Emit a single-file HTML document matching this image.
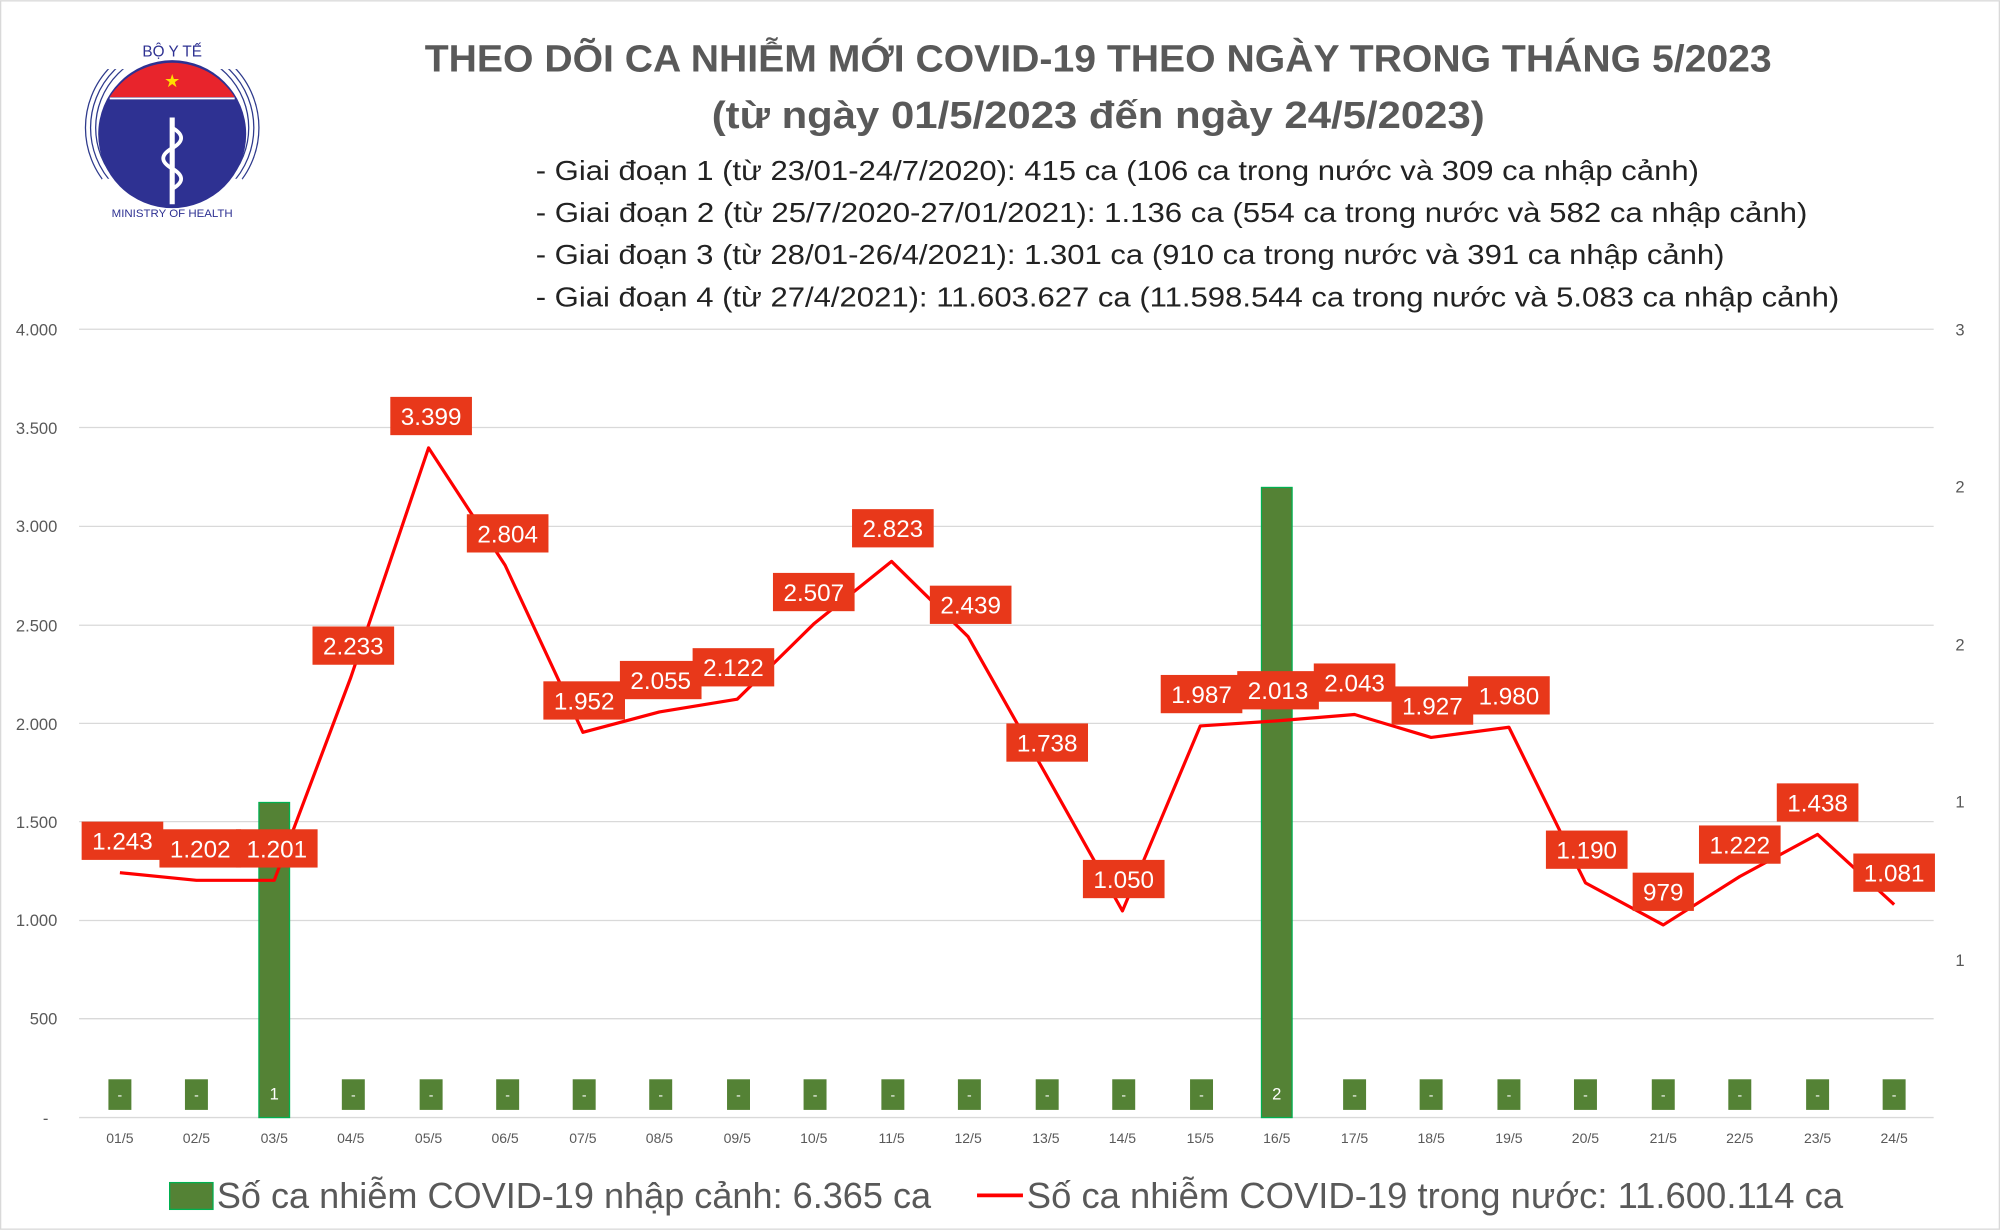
<!DOCTYPE html>
<html><head><meta charset="utf-8"><style>
html,body{margin:0;padding:0;background:#fff}
svg{display:block}
text{font-family:"Liberation Sans",sans-serif}
</style></head><body>
<svg width="2000" height="1230" viewBox="0 0 1568 964" xmlns="http://www.w3.org/2000/svg">
<rect x="0" y="0" width="1568" height="964" fill="#fff"/>
<rect x="0.5" y="0.5" width="1567" height="963" fill="none" stroke="#d9d9d9"/>
<!-- logo -->
<g>
<circle cx="135" cy="100" r="68" fill="none" stroke="#2e3a8c" stroke-width="1"/>
<circle cx="135" cy="100" r="64" fill="none" stroke="#2e3a8c" stroke-width="1"/>
<circle cx="135" cy="100" r="60" fill="none" stroke="#2e3a8c" stroke-width="1"/>
<rect x="80" y="20" width="110" height="34" fill="#fff"/>
<rect x="80" y="140" width="110" height="40" fill="#fff"/>
<circle cx="135" cy="105" r="58" fill="#2e3192"/>
<path d="M86 76 A58 58 0 0 1 184 76 Z" fill="#e8242c"/>
<line x1="86" y1="77" x2="184" y2="77" stroke="#fff" stroke-width="1.5"/>
<text x="135" y="68" font-size="14" fill="#ffde00" text-anchor="middle">★</text>
<line x1="135" y1="92" x2="135" y2="160" stroke="#fff" stroke-width="4"/>
<path d="M135 100 q14 8 0 16 q-14 8 0 16 q14 8 0 16" fill="none" stroke="#fff" stroke-width="3"/>
<text x="135" y="44" font-size="12" fill="#2e3192" text-anchor="middle">BỘ Y TẾ</text>
<text x="135" y="170" font-size="9" fill="#2e3192" text-anchor="middle">MINISTRY OF HEALTH</text>
</g>
<!-- titles -->
<text x="861" y="56" font-size="30" font-weight="bold" fill="#595959" text-anchor="middle" textLength="1056" lengthAdjust="spacingAndGlyphs">THEO DÕI CA NHIỄM MỚI COVID-19 THEO NGÀY TRONG THÁNG 5/2023</text>
<text x="861" y="100" font-size="30" font-weight="bold" fill="#595959" text-anchor="middle" textLength="606" lengthAdjust="spacingAndGlyphs">(từ ngày 01/5/2023 đến ngày 24/5/2023)</text>
<g font-size="22" fill="#222">
<text x="420" y="141" textLength="912" lengthAdjust="spacingAndGlyphs">- Giai đoạn 1 (từ 23/01-24/7/2020): 415 ca (106 ca trong nước và 309 ca nhập cảnh)</text>
<text x="420" y="174" textLength="997" lengthAdjust="spacingAndGlyphs">- Giai đoạn 2 (từ 25/7/2020-27/01/2021): 1.136 ca (554 ca trong nước và 582 ca nhập cảnh)</text>
<text x="420" y="207" textLength="932" lengthAdjust="spacingAndGlyphs">- Giai đoạn 3 (từ 28/01-26/4/2021): 1.301 ca (910 ca trong nước và 391 ca nhập cảnh)</text>
<text x="420" y="240" textLength="1022" lengthAdjust="spacingAndGlyphs">- Giai đoạn 4 (từ 27/4/2021): 11.603.627 ca (11.598.544 ca trong nước và 5.083 ca nhập cảnh)</text>
</g>
<!-- grid -->
<g stroke="#d9d9d9" stroke-width="1">
<line x1="62" y1="258" x2="1516" y2="258"/><line x1="62" y1="335" x2="1516" y2="335"/>
<line x1="62" y1="412.5" x2="1516" y2="412.5"/><line x1="62" y1="490" x2="1516" y2="490"/>
<line x1="62" y1="567" x2="1516" y2="567"/><line x1="62" y1="644" x2="1516" y2="644"/>
<line x1="62" y1="721.5" x2="1516" y2="721.5"/><line x1="62" y1="798.5" x2="1516" y2="798.5"/>
<line x1="62" y1="876" x2="1516" y2="876"/>
</g>
<g font-size="13" fill="#595959" text-anchor="end">
<text x="45" y="263">4.000</text><text x="45" y="340">3.500</text><text x="45" y="417">3.000</text>
<text x="45" y="495">2.500</text><text x="45" y="572">2.000</text><text x="45" y="649">1.500</text>
<text x="45" y="726">1.000</text><text x="45" y="803">500</text><text x="38" y="881">-</text>
</g>
<g font-size="13" fill="#595959">
<text x="1533" y="263">3</text><text x="1533" y="386">2</text><text x="1533" y="510">2</text>
<text x="1533" y="633">1</text><text x="1533" y="757">1</text>
</g>
<!-- bars -->
<g fill="#548235">
<rect x="85" y="846" width="18" height="24"/><rect x="145" y="846" width="18" height="24"/>
<rect x="203" y="629" width="24" height="247" stroke="#00b050" stroke-width="1"/>
<rect x="268" y="846" width="18" height="24"/><rect x="329" y="846" width="18" height="24"/>
<rect x="389" y="846" width="18" height="24"/><rect x="449" y="846" width="18" height="24"/>
<rect x="509" y="846" width="18" height="24"/><rect x="570" y="846" width="18" height="24"/>
<rect x="630" y="846" width="18" height="24"/><rect x="691" y="846" width="18" height="24"/>
<rect x="751" y="846" width="18" height="24"/><rect x="812" y="846" width="18" height="24"/>
<rect x="872" y="846" width="18" height="24"/><rect x="933" y="846" width="18" height="24"/>
<rect x="989" y="382" width="24" height="494" stroke="#00b050" stroke-width="1"/>
<rect x="1053" y="846" width="18" height="24"/><rect x="1113" y="846" width="18" height="24"/>
<rect x="1174" y="846" width="18" height="24"/><rect x="1234" y="846" width="18" height="24"/>
<rect x="1295" y="846" width="18" height="24"/><rect x="1355" y="846" width="18" height="24"/>
<rect x="1416" y="846" width="18" height="24"/><rect x="1476" y="846" width="18" height="24"/>
</g>
<g font-size="11" fill="#fff" text-anchor="middle">
<text x="94" y="862">-</text><text x="154" y="862">-</text><text x="215" y="862" font-size="13">1</text>
<text x="277" y="862">-</text><text x="338" y="862">-</text><text x="398" y="862">-</text>
<text x="458" y="862">-</text><text x="518" y="862">-</text><text x="579" y="862">-</text>
<text x="639" y="862">-</text><text x="700" y="862">-</text><text x="760" y="862">-</text>
<text x="821" y="862">-</text><text x="881" y="862">-</text><text x="942" y="862">-</text>
<text x="1001" y="862" font-size="13">2</text><text x="1062" y="862">-</text><text x="1122" y="862">-</text>
<text x="1183" y="862">-</text><text x="1243" y="862">-</text><text x="1304" y="862">-</text>
<text x="1364" y="862">-</text><text x="1425" y="862">-</text><text x="1485" y="862">-</text>
</g>
<!-- x labels -->
<g font-size="11" fill="#595959" text-anchor="middle">
<text x="94" y="896">01/5</text><text x="154" y="896">02/5</text><text x="215" y="896">03/5</text>
<text x="275" y="896">04/5</text><text x="336" y="896">05/5</text><text x="396" y="896">06/5</text>
<text x="457" y="896">07/5</text><text x="517" y="896">08/5</text><text x="578" y="896">09/5</text>
<text x="638" y="896">10/5</text><text x="699" y="896">11/5</text><text x="759" y="896">12/5</text>
<text x="820" y="896">13/5</text><text x="880" y="896">14/5</text><text x="941" y="896">15/5</text>
<text x="1001" y="896">16/5</text><text x="1062" y="896">17/5</text><text x="1122" y="896">18/5</text>
<text x="1183" y="896">19/5</text><text x="1243" y="896">20/5</text><text x="1304" y="896">21/5</text>
<text x="1364" y="896">22/5</text><text x="1425" y="896">23/5</text><text x="1485" y="896">24/5</text>
</g>
<!-- line -->
<polyline fill="none" stroke="#ff0000" stroke-width="2.5" stroke-linejoin="round" points="94,684 154,690 215,690 275,531 336,351 396,443 457,574 517,558 578,548 638,489 699,440 759,499 820,607 880,714 941,569 1001,565 1062,560 1122,578 1183,570 1243,692 1304,725 1364,687 1425,654 1485,709"/>
<!-- labels -->
<g font-size="19" fill="#fff" text-anchor="middle">
<g fill="#e8381a">
<rect x="64" y="644" width="64" height="30"/><rect x="125" y="650" width="64" height="30"/><rect x="185" y="650" width="64" height="30"/>
<rect x="245" y="491" width="64" height="30"/><rect x="306" y="311" width="64" height="30"/><rect x="366" y="403" width="64" height="30"/>
<rect x="426" y="534" width="64" height="30"/><rect x="486" y="518" width="64" height="30"/><rect x="543" y="508" width="64" height="30"/>
<rect x="606" y="449" width="64" height="30"/><rect x="668" y="399" width="64" height="30"/><rect x="729" y="459" width="64" height="30"/>
<rect x="789" y="567" width="64" height="30"/><rect x="849" y="674" width="64" height="30"/><rect x="910" y="529" width="64" height="30"/>
<rect x="970" y="526" width="64" height="30"/><rect x="1030" y="520" width="64" height="30"/><rect x="1091" y="538" width="64" height="30"/>
<rect x="1151" y="530" width="64" height="30"/><rect x="1212" y="651" width="64" height="30"/><rect x="1280" y="684" width="48" height="30"/>
<rect x="1332" y="647" width="64" height="30"/><rect x="1393" y="614" width="64" height="30"/><rect x="1453" y="669" width="64" height="30"/>
</g>
<text x="96" y="666">1.243</text><text x="157" y="672">1.202</text><text x="217" y="672">1.201</text>
<text x="277" y="513">2.233</text><text x="338" y="333">3.399</text><text x="398" y="425">2.804</text>
<text x="458" y="556">1.952</text><text x="518" y="540">2.055</text><text x="575" y="530">2.122</text>
<text x="638" y="471">2.507</text><text x="700" y="421">2.823</text><text x="761" y="481">2.439</text>
<text x="821" y="589">1.738</text><text x="881" y="696">1.050</text><text x="942" y="551">1.987</text>
<text x="1002" y="548">2.013</text><text x="1062" y="542">2.043</text><text x="1123" y="560">1.927</text>
<text x="1183" y="552">1.980</text><text x="1244" y="673">1.190</text><text x="1304" y="706">979</text>
<text x="1364" y="669">1.222</text><text x="1425" y="636">1.438</text><text x="1485" y="691">1.081</text>
</g>
<!-- legend -->
<rect x="133" y="927" width="34" height="21" fill="#548235" stroke="#00b050" stroke-width="1"/>
<text x="170" y="947" font-size="28" fill="#595959" textLength="560" lengthAdjust="spacingAndGlyphs">Số ca nhiễm COVID-19 nhập cảnh: 6.365 ca</text>
<line x1="766" y1="937" x2="802" y2="937" stroke="#ff0000" stroke-width="3"/>
<text x="805" y="947" font-size="28" fill="#595959" textLength="640" lengthAdjust="spacingAndGlyphs">Số ca nhiễm COVID-19 trong nước: 11.600.114 ca</text>
</svg>
</body></html>
